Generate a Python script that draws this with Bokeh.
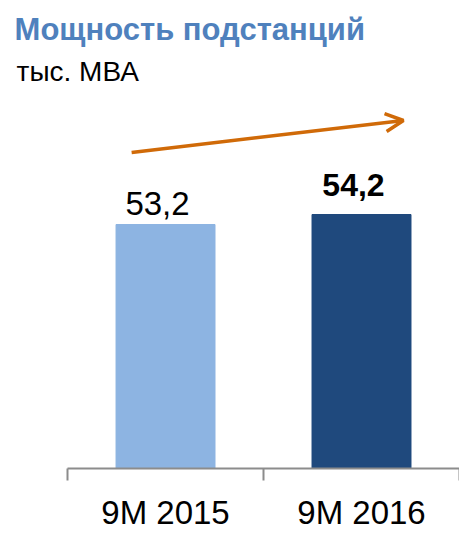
from bokeh.plotting import figure
from bokeh.models import Range1d, FixedTicker, ColumnDataSource, Label, Arrow, OpenHead
from bokeh.core.properties import value
from bokeh.embed import file_html
from bokeh.resources import INLINE

categories = ["9M 2015", "9M 2016"]
values = [53.2, 54.2]
value_labels = ["53,2", "54,2"]
label_styles = ["normal", "bold"]
label_sizes = ["33px", "32px"]
label_lift = [-21, -30]
bar_colors = ["#8DB4E2", "#1F497D"]
title_text = "Мощность подстанций"
unit_text = "тыс.  МВА"

FONT = "Liberation Sans"
Y_START = 28.8
Y_END = 75.6

n = len(categories)
centers = [i + 0.5 for i in range(n)]

p = figure(width=459, height=534, output_backend="svg", toolbar_location=None,
           x_range=Range1d(-0.342, n), y_range=Range1d(Y_START, Y_END),
           y_axis_location=None, min_border_left=0, min_border_right=0,
           min_border_top=0, min_border_bottom=66)
p.outline_line_color = None
p.xgrid.visible = False
p.ygrid.visible = False
p.background_fill_color = "white"

src = ColumnDataSource(dict(x=centers, top=values, color=bar_colors))
p.vbar(x="x", top="top", bottom=Y_START, width=0.505, color="color", source=src)
for i in range(n):
    p.text(x=[centers[i]], y=[values[i]], text=[value_labels[i]], text_align="center",
           text_baseline="alphabetic", text_font=value(FONT),
           text_font_style=label_styles[i], text_font_size=label_sizes[i],
           text_color="black", x_offset=-8, y_offset=label_lift[i])

ax = p.xaxis[0]
ax.ticker = FixedTicker(ticks=centers, minor_ticks=list(range(n + 1)))
ax.major_label_overrides = {c: lab for c, lab in zip(centers, categories)}
ax.bounds = (0, n)
ax.major_tick_line_color = None
ax.major_tick_out = 0
ax.major_tick_in = 0
ax.minor_tick_in = 0
ax.minor_tick_out = 12
ax.minor_tick_line_color = "#8C8C8C"
ax.minor_tick_line_width = 2
ax.axis_line_color = "#8C8C8C"
ax.axis_line_width = 2
ax.major_label_text_font = FONT
ax.major_label_text_font_size = "33px"
ax.major_label_text_color = "black"
ax.major_label_standoff = 13

p.add_layout(Label(x=-0.27, y=72.7, text=title_text, text_font=FONT, text_font_size="31px",
                   text_font_style="bold", text_color="#4F81BD", text_baseline="alphabetic"))
p.add_layout(Label(x=-0.26, y=68.5, text=unit_text, text_font=FONT, text_font_size="28px",
                   text_color="black", text_baseline="alphabetic"))

p.add_layout(Arrow(x_start=0.327, y_start=60.4, x_end=1.714, y_end=63.6,
                   line_color="#D06A08", line_width=3.5,
                   end=OpenHead(size=18, line_color="#D06A08", line_width=3.5)))

open("out.html", "w").write(file_html(p, INLINE))
